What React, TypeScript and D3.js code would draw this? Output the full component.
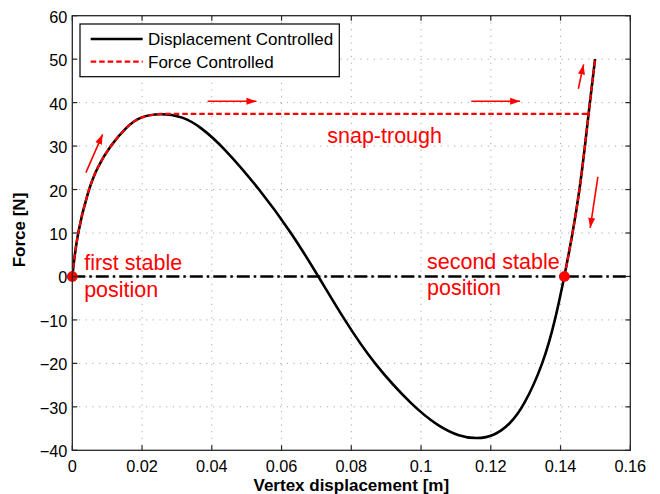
import React from "react";
import * as d3 from "d3";

// ---- data ----
const xTicks = [0, 0.02, 0.04, 0.06, 0.08, 0.1, 0.12, 0.14, 0.16];
const xTickLabels = ["0", "0.02", "0.04", "0.06", "0.08", "0.1", "0.12", "0.14", "0.16"];
const yTicks = [-40, -30, -20, -10, 0, 10, 20, 30, 40, 50, 60];
const yTickLabels = ["\u221240", "\u221230", "\u221220", "\u221210", "0", "10", "20", "30", "40", "50", "60"];

// Displacement controlled (black solid)
const dispX = [0, 0.0014, 0.0046, 0.0072, 0.0108, 0.0156, 0.0194, 0.0252, 0.0318, 0.0366, 0.0431, 0.0538, 0.0629, 0.0706, 0.078, 0.0863, 0.0978, 0.105, 0.111, 0.116, 0.121, 0.1255, 0.1294, 0.1351, 0.1385, 0.1411, 0.1435, 0.1455, 0.147, 0.1484, 0.1499];
const dispF = [0, 10, 20, 25.2, 30, 34.5, 36.8, 37.6, 36.8, 34.5, 30, 20, 10, 0, -10, -20, -30, -34.5, -36.8, -37.4, -36.7, -34, -30, -20, -10, 0, 10, 20, 30, 40, 50];

// Force controlled (red dashed): loading up to the peak
const forceX = [0, 0.0014, 0.0046, 0.0072, 0.0108, 0.0156, 0.0194, 0.0252];
const forceF = [0, 10, 20, 25.2, 30, 34.5, 36.8, 37.4];
// snap-through plateau end
const snapEndX = 0.148;
// Force controlled: second stable branch
const branchX = [0.1411, 0.1435, 0.1455, 0.147, 0.1484, 0.1499];
const branchF = [0, 10, 20, 30, 40, 50];

// Stable positions (red dots)
const stableX = [0, 0.1411];
const stableF = [0, 0];

// Direction arrows [x1, F1, x2, F2]
const arrows = [
  [0.0039, 23.9, 0.0087, 32.7],
  [0.0388, 40.3, 0.0528, 40.3],
  [0.1144, 40.3, 0.1284, 40.3],
  [0.1451, 43.2, 0.1466, 48.8],
  [0.1507, 22.9, 0.1485, 11.2],
];

// Annotations: text lines, anchor x, baseline F of first line
const notes = [
  { lines: ["first stable", "position"], x: 0.0034, f: 1.4 },
  { lines: ["second stable", "position"], x: 0.1017, f: 1.8 },
  { lines: ["snap-trough"], x: 0.0731, f: 30.8 },
];

const legendItems = ["Displacement Controlled", "Force Controlled"];

const W = 660;
const H = 494;
const FONT = "'Liberation Sans', Arial, Helvetica, sans-serif";

export default function App() {
  const x = d3.scaleLinear().domain([0, 0.16]).range([72.3, 630.3]);
  const y = d3.scaleLinear().domain([-40, 60]).range([450.3, 15.7]);
  const [x0, x1] = x.range();
  const [y0, y1] = y.range();

  const line = d3
    .line<[number, number]>()
    .x((d) => x(d[0]))
    .y((d) => y(d[1]))
    .curve(d3.curveBasis);

  const dispPts = dispX.map((v, i) => [v, dispF[i]] as [number, number]);
  const forcePts = forceX.map((v, i) => [v, forceF[i]] as [number, number]);
  const branchPts = branchX.map((v, i) => [v, branchF[i]] as [number, number]);
  const peakF = forceF[forceF.length - 1];
  const forcePath = (line(forcePts) || "") + `L${x(snapEndX)},${y(peakF)}`;

  const tickLen = 5;
  const lineH = 26.5;

  return (
    <svg
      width={W}
      height={H}
      style={{ position: "absolute", left: 0, top: 0, background: "#fff" }}
      fontFamily={FONT}
    >
      <defs>
        <marker
          id="arrowhead"
          markerUnits="userSpaceOnUse"
          markerWidth={11}
          markerHeight={8}
          refX={10}
          refY={4}
          orient="auto"
        >
          <path d="M0,0.5 L10,4 L0,7.5 Z" fill="#ff0000" />
        </marker>
        <clipPath id="plotclip">
          <rect x={x0} y={y1} width={x1 - x0} height={y0 - y1} />
        </clipPath>
      </defs>
      <rect x={0} y={0} width={W} height={H} fill="#fff" />

      {/* grid */}
      <g stroke="#a8a8a8" strokeWidth={1} strokeDasharray="1.2,5.5">
        {xTicks.slice(1, -1).map((t) => (
          <line key={"gx" + t} x1={x(t)} x2={x(t)} y1={y1} y2={y0} />
        ))}
        {yTicks.slice(1, -1).map((t) => (
          <line key={"gy" + t} x1={x0} x2={x1} y1={y(t)} y2={y(t)} />
        ))}
      </g>

      {/* zero reference line (dash-dot) */}
      <line
        x1={x0}
        x2={x1}
        y1={y(0)}
        y2={y(0)}
        stroke="#000"
        strokeWidth={2.6}
        strokeDasharray="13,4,2.5,4"
      />

      {/* curves */}
      <g clipPath="url(#plotclip)" fill="none">
        <path d={line(dispPts) || ""} stroke="#000" strokeWidth={2.6} strokeLinejoin="round" />
        <path d={forcePath} stroke="#ff0000" strokeWidth={2.2} strokeDasharray="5.5,3" />
        <path d={line(branchPts) || ""} stroke="#ff0000" strokeWidth={2.2} strokeDasharray="5.5,3" />
      </g>

      {/* stable points */}
      {stableX.map((v, i) => (
        <circle key={"s" + i} cx={x(v)} cy={y(stableF[i])} r={5.4} fill="#ff0000" />
      ))}

      {/* arrows */}
      {arrows.map((a, i) => (
        <line
          key={"a" + i}
          x1={x(a[0])}
          y1={y(a[1])}
          x2={x(a[2])}
          y2={y(a[3])}
          stroke="#ff0000"
          strokeWidth={1.6}
          markerEnd="url(#arrowhead)"
        />
      ))}

      {/* annotations */}
      {notes.map((n, i) => (
        <text key={"n" + i} x={x(n.x)} y={y(n.f)} fill="#ff0000" fontSize={21.5}>
          {n.lines.map((l, j) => (
            <tspan key={j} x={x(n.x)} dy={j === 0 ? 0 : lineH}>
              {l}
            </tspan>
          ))}
        </text>
      ))}

      {/* frame */}
      <rect x={x0} y={y1} width={x1 - x0} height={y0 - y1} fill="none" stroke="#262626" strokeWidth={1.3} />

      {/* ticks */}
      <g stroke="#262626" strokeWidth={1.2}>
        {xTicks.map((t) => (
          <g key={"tx" + t}>
            <line x1={x(t)} x2={x(t)} y1={y0} y2={y0 - tickLen} />
            <line x1={x(t)} x2={x(t)} y1={y1} y2={y1 + tickLen} />
          </g>
        ))}
        {yTicks.map((t) => (
          <g key={"ty" + t}>
            <line x1={x0} x2={x0 + tickLen} y1={y(t)} y2={y(t)} />
            <line x1={x1} x2={x1 - tickLen} y1={y(t)} y2={y(t)} />
          </g>
        ))}
      </g>

      {/* tick labels */}
      <g fontSize={16.3} fill="#000">
        {xTicks.map((t, i) => (
          <text key={"lx" + t} x={x(t)} y={y0 + 21.4} textAnchor="middle">
            {xTickLabels[i]}
          </text>
        ))}
        {yTicks.map((t, i) => (
          <text key={"ly" + t} x={x0 - 5} y={y(t) + 7} textAnchor="end">
            {yTickLabels[i]}
          </text>
        ))}
      </g>

      {/* axis labels */}
      <text x={351.3} y={491} textAnchor="middle" fontSize={17} fontWeight="bold">
        Vertex displacement [m]
      </text>
      <text
        transform={`translate(24.5, ${(y0 + y1) / 2 - 3}) rotate(-90)`}
        textAnchor="middle"
        fontSize={17}
        fontWeight="bold"
      >
        Force [N]
      </text>

      {/* legend */}
      <g>
        <rect x={80} y={24} width={259.3} height={52.7} fill="#fff" stroke="#000" strokeWidth={1.2} />
        <line x1={90.7} x2={142.7} y1={39} y2={39} stroke="#000" strokeWidth={2.6} />
        <line x1={90.7} x2={142.7} y1={61.7} y2={61.7} stroke="#ff0000" strokeWidth={2.2} strokeDasharray="5.5,3" />
        <text x={148} y={39 + 6} fontSize={17}>
          {legendItems[0]}
        </text>
        <text x={148} y={61.7 + 6} fontSize={17}>
          {legendItems[1]}
        </text>
      </g>
    </svg>
  );
}
